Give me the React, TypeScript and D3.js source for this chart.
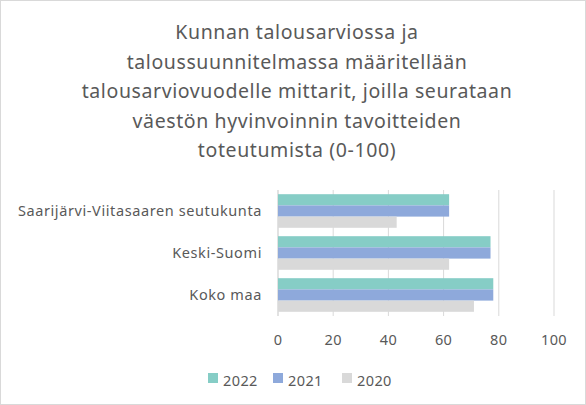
import React from 'react';
import * as d3 from 'd3';

// Chart data
const categories = ['Saarijärvi-Viitasaaren seutukunta', 'Keski-Suomi', 'Koko maa'];
const seriesNames = ['2022', '2021', '2020'];
const values2022 = [62, 77, 78];
const values2021 = [62, 77, 78];
const values2020 = [43, 62, 71];
const tickValues = [0, 20, 40, 60, 80, 100];
const titleLines = [
  'Kunnan talousarviossa ja',
  'taloussuunnitelmassa määritellään',
  'talousarviovuodelle mittarit, joilla seurataan',
  'väestön hyvinvoinnin tavoitteiden',
  'toteutumista (0-100)',
];

const colors = ['#86CDC6', '#8EA9DB', '#D9D9D9'];
const textColor = '#595959';
const gridColor = '#D9D9D9';
const font = '"Noto Sans", "Open Sans", sans-serif';

const W = 586;
const H = 405;
const plot = { left: 278, right: 554, top: 190, bottom: 316 };

const App = () => {
  const series = [values2022, values2021, values2020];

  const x = d3.scaleLinear().domain([0, 100]).range([plot.left, plot.right]);
  const y0 = d3.scaleBand<string>().domain(categories).range([plot.top, plot.bottom]).paddingInner(0.2).paddingOuter(0.1);
  const y1 = d3.scaleBand<string>().domain(seriesNames).range([0, y0.bandwidth()]);

  return (
    <svg
      width={W}
      height={H}
      viewBox={`0 0 ${W} ${H}`}
      style={{ position: 'absolute', left: 0, top: 0, background: '#fff', fontFamily: font }}
    >
      <rect x={0.5} y={0.5} width={W - 1} height={H - 1} fill="#fff" stroke={gridColor} />

      {/* Title */}
      <text textAnchor="middle" fill={textColor} fontSize={19.5} letterSpacing={0.6}>
        {titleLines.map((line, i) => (
          <tspan key={i} x={297} y={39 + i * 29.5}>
            {line}
          </tspan>
        ))}
      </text>

      {/* Grid lines */}
      {tickValues.map((t) => (
        <line
          key={t}
          x1={x(t)}
          x2={x(t)}
          y1={plot.top}
          y2={plot.bottom}
          stroke={gridColor}
          strokeWidth={t === 0 ? 1.5 : 1}
        />
      ))}

      {/* Bars */}
      {categories.map((c, ci) => (
        <g key={c} transform={`translate(0,${y0(c)})`}>
          {seriesNames.map((s, si) => (
            <rect
              key={s}
              x={x(0)}
              y={y1(s)}
              width={x(series[si][ci]) - x(0)}
              height={y1.bandwidth()}
              fill={colors[si]}
            />
          ))}
        </g>
      ))}

      {/* Category labels */}
      {categories.map((c) => (
        <text
          key={c}
          x={262}
          y={(y0(c) || 0) + y0.bandwidth() / 2}
          dy="0.35em"
          textAnchor="end"
          fill={textColor}
          fontSize={14.5}
          letterSpacing={0.6}
        >
          {c}
        </text>
      ))}

      {/* X axis labels */}
      {tickValues.map((t) => (
        <text key={t} x={x(t)} y={345} textAnchor="middle" fill={textColor} fontSize={14.5} letterSpacing={0.4}>
          {t}
        </text>
      ))}

      {/* Legend */}
      {seriesNames.map((s, i) => {
        const lx = [208, 273, 342][i];
        return (
          <g key={s}>
            <rect x={lx} y={373} width={10} height={10} fill={colors[i]} />
            <text x={lx + 15} y={386} fill={textColor} fontSize={14.5} letterSpacing={0.4}>
              {s}
            </text>
          </g>
        );
      })}
    </svg>
  );
};

export default App;
